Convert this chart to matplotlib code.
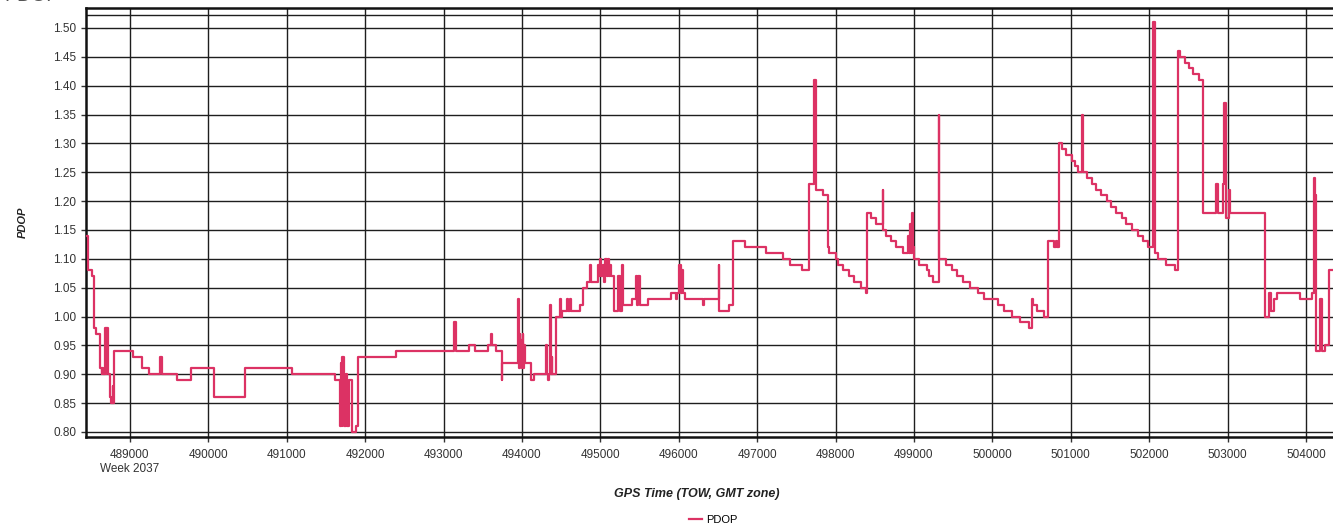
import numpy as np
import matplotlib.pyplot as plt

plt.rcParams['font.family'] = ['Liberation Sans', 'DejaVu Sans']

# step series (TOW seconds, PDOP), drawn as steps-post
tow = [488440, 488465, 488520, 488545, 488570, 488625, 488640, 488650, 488660, 488680,
       488690, 488700, 488715, 488750, 488760, 488780, 488790, 488800, 489040, 489160,
       489240, 489390, 489410, 489595, 489775, 490070, 490470, 491070, 491610, 491675,
       491690, 491700, 491710, 491725, 491760, 491770, 491800, 491830, 491880, 491915,
       492400, 493130, 493160, 493330, 493400, 493565, 493600, 493615, 493675, 493740,
       493750, 493950, 493960, 493970, 493980, 493990, 494000, 494010, 494020, 494030,
       494040, 494120, 494160, 494310, 494325, 494335, 494350, 494360, 494370, 494380,
       494390, 494430, 494480, 494500, 494515, 494575, 494590, 494610, 494630, 494735,
       494777, 494828, 494870, 494880, 494965, 494980, 494995, 495010, 495030, 495045,
       495060, 495080, 495095, 495110, 495125, 495140, 495180, 495230, 495245, 495275,
       495285, 495406, 495455, 495465, 495485, 495500, 495606, 495900, 495960, 495975,
       496010, 496025, 496040, 496060, 496085, 496305, 496325, 496510, 496520, 496645,
       496690, 496850, 497114, 497326, 497420, 497573, 497666, 497720, 497750, 497836,
       497900, 497921, 498006, 498027, 498099, 498167, 498240, 498325, 498389, 498401,
       498452, 498516, 498600, 498610, 498643, 498707, 498771, 498856, 498930, 498940,
       498950, 498965, 498975, 498990, 499005, 499068, 499161, 499195, 499238, 499314,
       499325, 499408, 499480, 499543, 499628, 499714, 499811, 499896, 500066, 500151,
       500249, 500351, 500470, 500504, 500520, 500576, 500661, 500716, 500789, 500810,
       500830, 500852, 500886, 500937, 501013, 501055, 501098, 501140, 501158, 501213,
       501277, 501319, 501383, 501468, 501510, 501574, 501651, 501710, 501780, 501860,
       501927, 501990, 502055, 502076, 502118, 502216, 502331, 502374, 502395, 502458,
       502513, 502564, 502641, 502684, 502856, 502877, 502939, 502953, 502975, 503017,
       503030, 503484, 503526, 503548, 503590, 503633, 503930, 504079, 504108, 504120,
       504130, 504185, 504200, 504240, 504300, 504350]
pdop = [1.14, 1.08, 1.07, 0.98, 0.97, 0.91, 0.90, 0.91, 0.90, 0.98,
        0.90, 0.98, 0.90, 0.86, 0.85, 0.88, 0.85, 0.94, 0.93, 0.91,
        0.90, 0.93, 0.90, 0.89, 0.91, 0.86, 0.91, 0.90, 0.89, 0.81,
        0.92, 0.81, 0.93, 0.81, 0.90, 0.81, 0.89, 0.80, 0.81, 0.93,
        0.94, 0.99, 0.94, 0.95, 0.94, 0.95, 0.97, 0.95, 0.94, 0.89,
        0.92, 1.03, 0.91, 0.97, 0.92, 0.96, 0.91, 0.97, 0.91, 0.95,
        0.92, 0.89, 0.90, 0.95, 0.90, 0.89, 0.90, 1.02, 0.90, 0.93,
        0.90, 1.00, 1.03, 1.00, 1.01, 1.03, 1.01, 1.03, 1.01, 1.02,
        1.05, 1.06, 1.09, 1.06, 1.09, 1.07, 1.10, 1.07, 1.09, 1.06,
        1.10, 1.07, 1.10, 1.07, 1.09, 1.07, 1.01, 1.07, 1.01, 1.09,
        1.02, 1.03, 1.07, 1.02, 1.07, 1.02, 1.03, 1.04, 1.03, 1.04,
        1.09, 1.04, 1.08, 1.04, 1.03, 1.02, 1.03, 1.09, 1.01, 1.02,
        1.13, 1.12, 1.11, 1.10, 1.09, 1.08, 1.23, 1.41, 1.22, 1.21,
        1.12, 1.11, 1.10, 1.09, 1.08, 1.07, 1.06, 1.05, 1.04, 1.18,
        1.17, 1.16, 1.22, 1.15, 1.14, 1.13, 1.12, 1.11, 1.14, 1.11,
        1.16, 1.11, 1.18, 1.12, 1.10, 1.09, 1.08, 1.07, 1.06, 1.35,
        1.10, 1.09, 1.08, 1.07, 1.06, 1.05, 1.04, 1.03, 1.02, 1.01,
        1.00, 0.99, 0.98, 1.03, 1.02, 1.01, 1.00, 1.13, 1.12, 1.13,
        1.12, 1.30, 1.29, 1.28, 1.27, 1.26, 1.25, 1.35, 1.25, 1.24,
        1.23, 1.22, 1.21, 1.20, 1.19, 1.18, 1.17, 1.16, 1.15, 1.14,
        1.13, 1.12, 1.51, 1.11, 1.10, 1.09, 1.08, 1.46, 1.45, 1.44,
        1.43, 1.42, 1.41, 1.18, 1.23, 1.18, 1.23, 1.37, 1.17, 1.22,
        1.18, 1.00, 1.04, 1.01, 1.03, 1.04, 1.03, 1.04, 1.24, 1.21,
        0.94, 1.03, 0.94, 0.95, 1.08, 1.08]

x_ticks = np.arange(489000, 504001, 1000)
y_ticks = np.round(np.arange(0.80, 1.501, 0.05), 2)

line_col = '#dc3264'
grid_col = '#1e1e1e'

fig = plt.figure(figsize=(13.33, 5.29), dpi=100)
ax = fig.add_axes([0.0645, 0.174, 0.9355, 0.811])

ax.plot(tow, pdop, drawstyle='steps-post', color=line_col, lw=1.6, label='PDOP', zorder=3)

ax.set_xlim(488440, 504345)
ax.set_ylim(0.7913, 1.5347)
ax.set_xticks(x_ticks)
ax.set_yticks(y_ticks)
ax.set_yticklabels([f'{v:.2f}' for v in y_ticks])
ax.tick_params(labelsize=8.5, labelcolor='#333333', color='#333333', length=3.5, width=1)
ax.tick_params(axis='x', pad=5)
ax.grid(True, color=grid_col, lw=1.0, zorder=1)
ax.axhline(1.5225, color=grid_col, lw=1.0, zorder=1)

for s in ['left', 'bottom', 'top']:
    ax.spines[s].set_linewidth(1.8)
    ax.spines[s].set_color('#111111')
ax.spines['right'].set_visible(False)

ax.text(489000, -0.06, 'Week 2037', transform=ax.get_xaxis_transform(),
        ha='center', va='top', fontsize=8.5, color='#333333')

ax.set_xlabel('GPS Time (TOW, GMT zone)', fontsize=9, fontweight='bold', style='italic',
              color='#222222')
ax.set_ylabel('PDOP', fontsize=8, fontweight='bold', style='italic', color='#222222')
ax.xaxis.set_label_coords(0.49, -0.118)
ax.yaxis.set_label_coords(-0.047, 0.5)

fig.legend(loc='lower center', bbox_to_anchor=(0.535, -0.012), frameon=False,
           fontsize=8, handlelength=1.2, handletextpad=0.4)

fig.text(0.003, 0.9975, 'PDOP', fontsize=14, color='#555555', ha='left', va='baseline')

fig.savefig('out.png', dpi=100)
